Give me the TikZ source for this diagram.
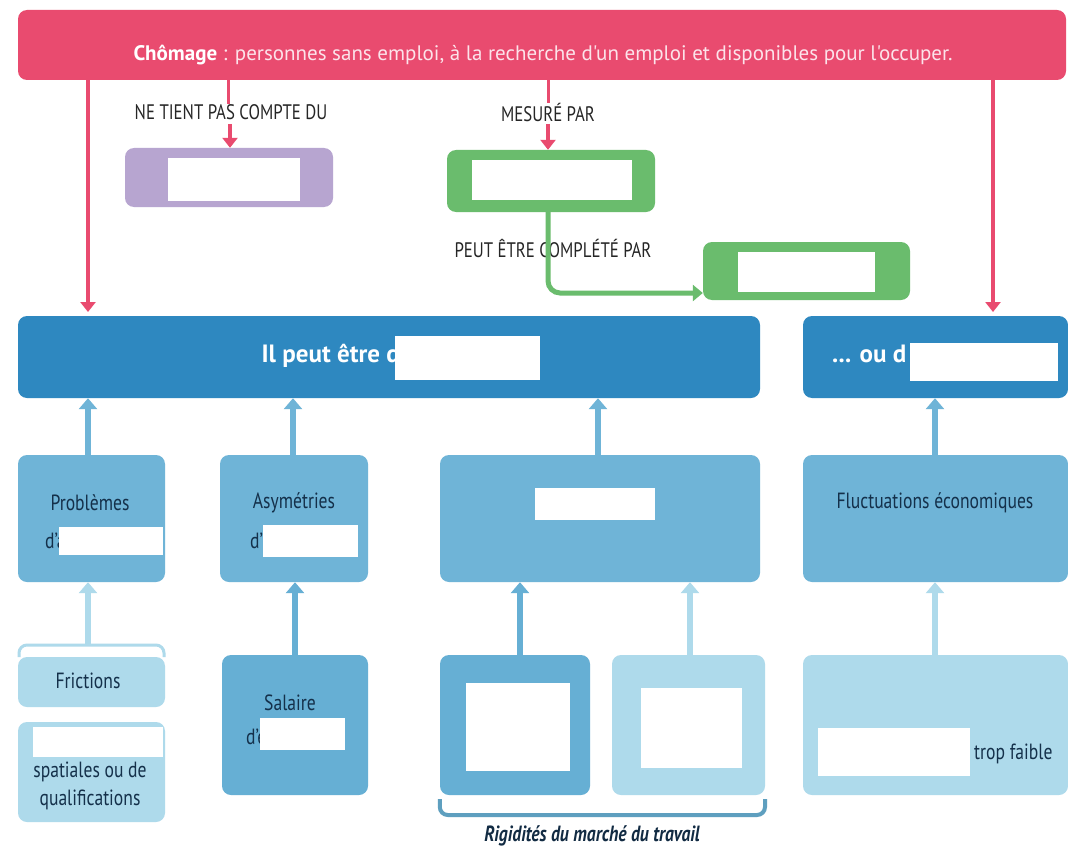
\documentclass[tikz,border=0pt]{standalone}
\usepackage{fontspec}
\setmainfont{PT Sans}[FakeStretch=0.8]
\newfontfamily\wide{PT Sans}
\usetikzlibrary{arrows.meta}
\definecolor{pink}{HTML}{E94B6F}
\definecolor{pinktxt}{HTML}{FCE3EA}
\definecolor{purp}{HTML}{B7A5D0}
\definecolor{grn}{HTML}{6ABC6D}
\definecolor{dblue}{HTML}{2E88C0}
\definecolor{mblue}{HTML}{6FB4D7}
\definecolor{m2blue}{HTML}{66AFD4}
\definecolor{lblue}{HTML}{AEDAEB}
\definecolor{navy}{HTML}{14304A}
\definecolor{brk}{HTML}{5E9FBF}
\tikzset{
  box/.style={rounded corners=9pt, inner sep=0pt},
  hole/.style={fill=white, inner sep=0pt},
  lab/.style={font=\fontsize{21}{23}\selectfont, text=black!85, inner sep=0pt},
  txt/.style={font=\fontsize{22}{28}\selectfont, text=navy, inner sep=0pt, align=center},
  parr/.style={draw=pink, line width=4pt, -{Triangle[width=15pt,length=10pt]}},
  barr/.style={line width=6pt, -{Triangle[width=18pt,length=11pt]}},
}
\begin{document}
\begin{tikzpicture}[x=1pt,y=-1pt]
\useasboundingbox[fill=white] (0,0) rectangle (1068,848);
% banner
\node[box, fill=pink, minimum width=1048pt, minimum height=70pt] (ban) at (542,45) {};
\node[font=\wide\fontsize{21}{23}\selectfont, text=pinktxt, inner sep=0pt] (bant) at (543,55)
  {{\color{white}\bfseries Chômage} : personnes sans emploi, à la recherche d'un emploi et disponibles pour l'occuper.};
% labels
\node[lab] (l1) at (231,112) {NE TIENT PAS COMPTE DU};
\node[lab] (l2) at (548,112) {MESURÉ PAR};
\node[lab] (l3) at (553,248) {PEUT ÊTRE COMPLÉTÉ PAR};
% purple & green
\node[box, fill=purp, minimum width=208pt, minimum height=59pt] (pu) at (229,177.5) {};
\node[hole, minimum width=132pt, minimum height=43pt] (puh) at (234,179) {};
\node[box, fill=grn, minimum width=208pt, minimum height=62pt] (g1) at (551,181) {};
\node[hole, minimum width=160pt, minimum height=40pt] (g1h) at (552,180) {};
\node[box, fill=grn, minimum width=207pt, minimum height=58pt] (g2) at (806.5,271) {};
\node[hole, minimum width=137pt, minimum height=40pt] (g2h) at (806.5,272) {};
% pink connectors
\coordinate (p1) at (88,80);
\coordinate (p2) at (993,80);
\draw[parr] (p1) -- (88,312);
\draw[parr] (p2) -- (993,312);
\draw[draw=pink, line width=3pt] (228,80) -- (l1.north -| 228,0);
\draw[draw=pink, line width=3pt] (548,80) -- (l2.north);
\draw[parr] (230,124) -- (pu.north -| 230,0);
\draw[parr] (548,124) -- (g1.north -| 548,0);
\draw[draw=grn, line width=5pt, rounded corners=12pt, -{Triangle[width=16pt,length=10pt]}]
  (g1.south -| 548,0) -- (548,293) -- (g2.west |- 0,293);
% blue bars
\node[box, fill=dblue, minimum width=742pt, minimum height=82pt] (b1) at (389,357) {};
\node[font=\wide\bfseries\fontsize{25}{28}\selectfont, text=white, anchor=east, inner sep=0pt] (b1t) at (400,356) {Il peut être d};
\node[hole, minimum width=145pt, minimum height=44pt] (b1h) at (467.5,358) {};
\node[box, fill=dblue, minimum width=265pt, minimum height=82pt] (b2) at (935.5,357) {};
\node[font=\wide\bfseries\fontsize{25}{28}\selectfont, text=white, anchor=west, inner sep=0pt] (b2t) at (832,354) {... ou d};
\node[hole, minimum width=148pt, minimum height=38pt] (b2h) at (984,362) {};
% level 2
\node[box, fill=mblue, minimum width=147pt, minimum height=127pt] (A) at (91.5,518.5) {};
\node[box, fill=mblue, minimum width=148pt, minimum height=127pt] (B) at (294,518.5) {};
\node[box, fill=mblue, minimum width=320pt, minimum height=127pt] (C) at (600,518.5) {};
\node[box, fill=mblue, minimum width=265pt, minimum height=127pt] (D) at (935.5,518.5) {};
\node[txt] (At) at (90,503) {Problèmes};
\node[txt, anchor=west] (At2) at (45,541) {d'ad};
\node[hole, minimum width=104pt, minimum height=28pt] (Ah) at (111,541) {};
\node[txt] (Bt) at (294,503) {Asymétries};
\node[txt, anchor=west] (Bt2) at (250,541) {d'in};
\node[hole, minimum width=95pt, minimum height=32pt] (Bh) at (310.5,541) {};
\node[hole, minimum width=120pt, minimum height=32pt] (Ch) at (595,504) {};
\node[txt] (Dt) at (935,503) {Fluctuations économiques};
% arrows to bars
\foreach \n/\x in {A/88, B/293, C/598, D/935}
  \draw[barr, draw=mblue] (\n.north -| \x,0) -- (b1.south -| \x,0);
% level 3
\node[box, fill=lblue, minimum width=147pt, minimum height=50pt] (Fr) at (91.5,682) {};
\node[txt] (Frt) at (88,681) {Frictions};
\node[box, fill=lblue, minimum width=147pt, minimum height=100pt] (Sp) at (91.5,772) {};
\node[hole, minimum width=130pt, minimum height=30pt] (Sph) at (98,742) {};
\node[txt] (Spt) at (90,786) {spatiales ou de\\qualifications};
\node[box, fill=m2blue, minimum width=146pt, minimum height=140pt] (Sal) at (295,725) {};
\node[txt] (Salt) at (290,703) {Salaire};
\node[txt, anchor=west] (Salt2) at (246,737) {d'e};
\node[hole, minimum width=85pt, minimum height=32pt] (Salh) at (302.5,734) {};
\node[box, fill=m2blue, minimum width=150pt, minimum height=140pt] (E) at (515,725) {};
\node[hole, minimum width=104pt, minimum height=88pt] (Eh) at (518,727) {};
\node[box, fill=lblue, minimum width=153pt, minimum height=140pt] (F) at (688.5,725) {};
\node[hole, minimum width=101pt, minimum height=80pt] (Fh) at (691.5,728) {};
\node[box, fill=lblue, minimum width=265pt, minimum height=140pt] (G) at (935.5,725) {};
\node[hole, minimum width=152pt, minimum height=48pt] (Gh) at (894,752) {};
\node[txt, anchor=west] (Gt) at (974,754) {trop faible};
% bracket over frictions
\coordinate (fb) at (88,645);
\draw[draw=lblue, line width=3pt, rounded corners=8pt] (19,657) -- (19,645) -- (164,645) -- (164,657);
\draw[barr, draw=lblue] (fb) -- (A.south -| fb);
\draw[barr, draw=m2blue] (Sal.north -| 295,0) -- (B.south -| 295,0);
\draw[barr, draw=m2blue] (E.north -| 520,0) -- (C.south -| 520,0);
\draw[barr, draw=lblue] (F.north -| 690,0) -- (C.south -| 690,0);
\draw[barr, draw=lblue] (G.north -| 935,0) -- (D.south -| 935,0);
% bracket under rigidities
\draw[draw=brk, line width=4pt, rounded corners=8pt] (E.south west) ++(0,4) |- (765,815) -- (765,799);
\node[font=\bfseries\itshape\fontsize{22}{24}\selectfont, text=navy!90!black, inner sep=0pt] (rig) at (592,836) {Rigidités du marché du travail};
\end{tikzpicture}
\end{document}
